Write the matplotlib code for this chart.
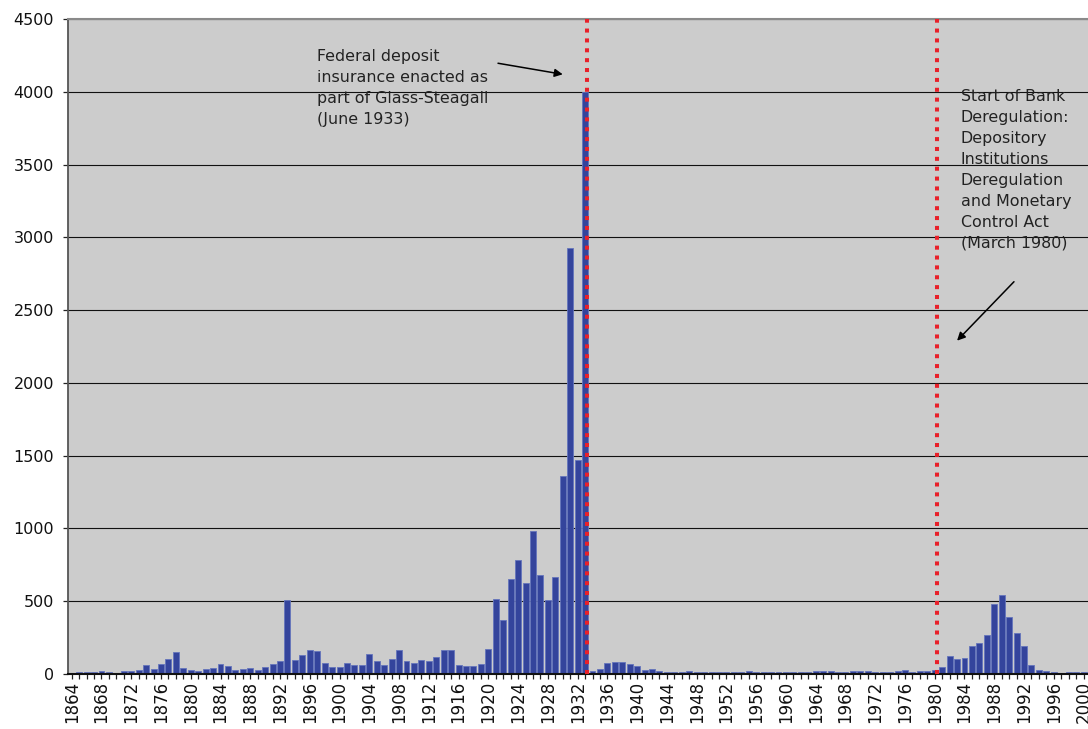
"""
plot.py -- annual bank failures/suspensions in the US, 1864-2000,
with the two regulatory milestones marked (Glass-Steagall, DIDMCA).
"""
import matplotlib
matplotlib.use("Agg")
import matplotlib.pyplot as plt

years = list(range(1864, 2001))
failures = [
    9, 14, 14, 16, 23, 16,                                   # 1864-1869
    9, 18, 18, 30, 64, 37, 67, 101, 150, 44,                 # 1870s
    25, 18, 32, 41, 71, 53, 30, 32, 41, 25,                  # 1880s
    46, 69, 92, 505, 99, 133, 166, 156, 76, 46,              # 1890s
    46, 78, 64, 60, 138, 90, 60, 101, 166, 90,               # 1900s
    74, 97, 90, 115, 163, 163, 60, 58, 58, 70,               # 1910s
    175, 512, 374, 654, 782, 626, 984, 677, 507, 668,        # 1920s
    1360, 2930, 1468, 4000, 20, 32, 76, 83, 83, 70,          # 1930s
    55, 25, 32, 18, 14, 14, 14, 20, 14, 14,                  # 1940s
    14, 14, 14, 14, 14, 20, 14, 14, 14, 14,                  # 1950s
    14, 17, 14, 14, 20, 20, 20, 14, 14, 22,                  # 1960s
    20, 20, 14, 16, 16, 24, 28, 16, 18, 18,                  # 1970s
    30, 48, 127, 106, 113, 189, 214, 271, 481, 545,          # 1980s
    391, 281, 191, 60, 25, 18, 14, 9, 12, 16,                # 1990s
    16,                                                      # 2000
]
y_ticks = list(range(0, 4501, 500))

event_years = [1933, 1980]
note_glass = "Federal deposit\ninsurance enacted as\npart of Glass-Steagall\n(June 1933)"
note_didmca = ("Start of Bank\nDeregulation:\nDepository\nInstitutions\nDeregulation\n"
               "and Monetary\nControl Act\n(March 1980)")

BAR = "#34449c"
RED = "#e8202a"
BG = "#cccccc"


def main():
    fig = plt.figure(figsize=(10.88, 7.29), dpi=100)
    ax = fig.add_axes([68 / 1088, 1 - 674 / 729, 1020 / 1088, 655 / 729])
    ax.set_facecolor(BG)
    ax.set_axisbelow(True)

    ax.bar(years, failures, width=0.8, color=BAR, edgecolor="#6474bc", linewidth=0.6, zorder=2)

    # event markers sit just right of the bar centre, as in the original
    for yr in event_years:
        ax.axvline(yr + 0.3, color=RED, lw=2.9, ls=(0, (1, 1.45)), zorder=3)

    ax.set_xlim(1863.5, 2000.6)
    ax.set_ylim(0, 4500)
    ax.set_yticks(y_ticks)
    ax.yaxis.grid(True, color="#111111", lw=0.8)

    ax.set_xticks(years, minor=True)
    ax.set_xticks(years[::4])
    ax.set_xticklabels([str(y) for y in years[::4]], rotation=90)
    ax.tick_params(axis="x", which="both", length=3.6, width=0.9, color="#222222",
                   labelsize=12, pad=1, labelcolor="#111111")
    ax.tick_params(axis="y", length=3.6, width=0.9, color="#222222",
                   labelsize=11.5, pad=6.5, labelcolor="#111111")

    ax.spines["right"].set_visible(False)
    ax.spines["top"].set_color("#8a8a8a")
    ax.spines["top"].set_linewidth(1.5)
    ax.spines["left"].set_color("#555555")
    ax.spines["left"].set_linewidth(1.3)
    ax.spines["bottom"].set_color("#111111")
    ax.spines["bottom"].set_linewidth(1.5)

    ax.text(1896.96, 4292, note_glass, fontsize=11.4, color="#222222",
            va="top", ha="left", linespacing=1.5)
    ax.annotate("", xy=(1930.0, 4120), xytext=(1921.3, 4196),
                arrowprops=dict(arrowstyle="-|>", color="black", lw=1.1,
                                mutation_scale=12, shrinkA=0, shrinkB=0))

    ax.text(1983.5, 4022, note_didmca, fontsize=11.4, color="#222222",
            va="top", ha="left", linespacing=1.5)
    ax.annotate("", xy=(1983.0, 2290), xytext=(1990.65, 2695),
                arrowprops=dict(arrowstyle="-|>", color="black", lw=1.1,
                                mutation_scale=12, shrinkA=0, shrinkB=0))

    fig.savefig("out.png", dpi=100)
    plt.close(fig)


if __name__ == "__main__":
    main()
